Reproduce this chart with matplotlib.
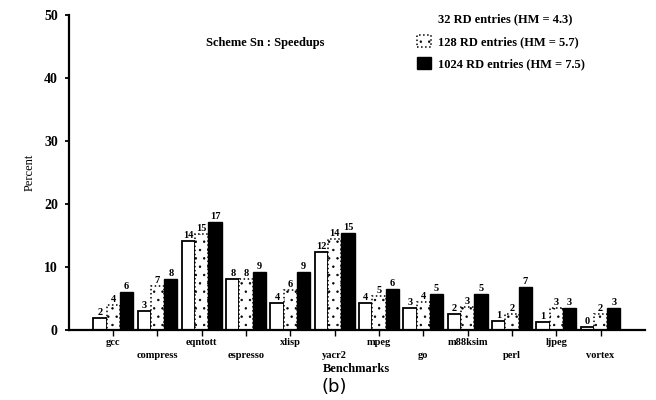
import numpy as np
import matplotlib.pyplot as plt

# benchmarks and speedups (percent)
benchmarks = ['gcc', 'compress', 'eqntott', 'espresso', 'xlisp', 'yacr2',
              'mpeg', 'go', 'm88ksim', 'perl', 'ljpeg', 'vortex']
rd32 = [1.9, 3.0, 14.1, 8.1, 4.3, 12.4, 4.3, 3.5, 2.5, 1.4, 1.3, 0.5]
rd128 = [4.0, 7.0, 15.2, 8.1, 6.3, 14.4, 5.4, 4.4, 3.6, 2.5, 3.5, 2.5]
rd1024 = [6.0, 8.1, 17.1, 9.2, 9.2, 15.4, 6.5, 5.7, 5.7, 6.8, 3.5, 3.5]
lab32 = [2, 3, 14, 8, 4, 12, 4, 3, 2, 1, 1, 0]
lab128 = [4, 7, 15, 8, 6, 14, 5, 4, 3, 2, 3, 2]
lab1024 = [6, 8, 17, 9, 9, 15, 6, 5, 5, 7, 3, 3]
legend_labels = ['32 RD entries (HM = 4.3)',
                 '128 RD entries (HM = 5.7)',
                 '1024 RD entries (HM = 7.5)']

plt.rcParams['font.family'] = ['Liberation Serif', 'DejaVu Serif']
plt.rcParams['hatch.linewidth'] = 0.5
plt.rcParams['hatch.color'] = '#666666'

fig = plt.figure(figsize=(6.56, 4.0), dpi=100)
ax = fig.add_axes([0.105, 0.175, 0.878, 0.7875])

x = np.arange(len(benchmarks))
w = 0.3

b1 = ax.bar(x - w, rd32, w, color='white', edgecolor='black', linewidth=1.3)
b2 = ax.bar(x, rd128, w, color='white', edgecolor='black', linewidth=1.1,
            linestyle=':', hatch='..')
b3 = ax.bar(x + w, rd1024, w, color='black', edgecolor='black')

# value labels on top of each bar
for bars, labs in [(b1, lab32), (b2, lab128), (b3, lab1024)]:
    for rect, lab in zip(bars, labs):
        ax.text(rect.get_x() + rect.get_width() / 2, rect.get_height() + 0.2,
                str(lab), ha='center', va='bottom', fontsize=7.5,
                fontweight='bold')

ax.set_xlim(-1, 12)
ax.set_ylim(0, 50)
ax.set_yticks([0, 10, 20, 30, 40, 50])
ax.set_yticklabels(['0', '10', '20', '30', '40', '50'], fontsize=10,
                   fontweight='bold')
ax.set_xticks(x)
ax.set_xticklabels([])
for i, name in enumerate(benchmarks):
    off = -1.3 if i % 2 == 0 else -3.4
    ax.text(i, off, name, ha='center', va='top', fontsize=7.5,
            fontweight='bold', clip_on=False)

for s in ['top', 'right']:
    ax.spines[s].set_visible(False)
ax.spines['left'].set_linewidth(1.6)
ax.spines['bottom'].set_linewidth(1.6)
ax.tick_params(axis='y', length=3, width=1.3, pad=5)
ax.tick_params(axis='x', length=4, width=1.0, direction='out')

ax.set_ylabel('Percent', fontsize=9, labelpad=6)
ax.text(0.5, -0.105, 'Benchmarks', transform=ax.transAxes, ha='center',
        va='top', fontsize=9, fontweight='bold')
fig.text(0.51, 0.01, '(b)', ha='center', va='bottom', fontsize=13,
         family='DejaVu Sans')

ax.text(0.34, 0.91, 'Scheme Sn : Speedups', transform=ax.transAxes,
        ha='center', va='center', fontsize=9, fontweight='bold')

leg = ax.legend([b1, b2, b3], legend_labels, loc='upper left',
                bbox_to_anchor=(0.585, 1.045), frameon=False,
                prop={'size': 9, 'weight': 'bold'}, handlelength=1.1,
                handleheight=1.1, labelspacing=0.75, handletextpad=0.6)
# first legend entry shows no box in the original
leg.legend_handles[0].set_edgecolor('none')

fig.savefig('out.png', dpi=100)
